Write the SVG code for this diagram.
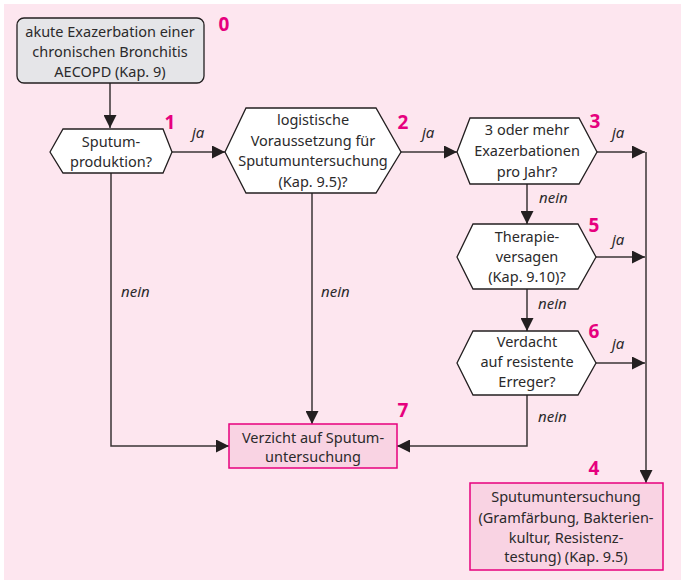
<svg xmlns="http://www.w3.org/2000/svg" width="681" height="580" viewBox="0 0 681 580">
<defs>
<marker id="arr" markerUnits="userSpaceOnUse" markerWidth="13" markerHeight="13" refX="13" refY="6.5" orient="auto">
<path d="M0,0 L13,6.5 L0,13 z" fill="#231f20"/>
</marker>
<style>
.t{font-family:"Noto Sans","Open Sans",sans-serif;font-size:14.5px;fill:#2b2a2b;text-anchor:middle}
.l{font-family:"Noto Sans","Open Sans",sans-serif;font-size:15px;font-style:italic;fill:#2b2a2b}
.n{font-family:"Noto Sans","Open Sans",sans-serif;font-size:19px;font-weight:bold;fill:#e6007e;text-anchor:middle}
.hex{fill:#fff;stroke:#231f20;stroke-width:1.3}
.pink{fill:#f9d3e3;stroke:#e6007e;stroke-width:1.5}
.c{fill:none;stroke:#3a3536;stroke-width:1.5}
</style>
</defs>
<rect x="4" y="4" width="677" height="576" fill="#fde6ef"/>
<g id="connectors">
<path class="c" d="M110,83 V128" marker-end="url(#arr)"/>
<path class="c" d="M172,152 H225" marker-end="url(#arr)"/>
<path class="c" d="M401,152 H457" marker-end="url(#arr)"/>
<path class="c" d="M597,152 H645" marker-end="url(#arr)"/>
<path class="c" d="M596,257 H645" marker-end="url(#arr)"/>
<path class="c" d="M596,363 H645" marker-end="url(#arr)"/>
<path class="c" d="M646,152 V483" marker-end="url(#arr)"/>
<path class="c" d="M527,184 V224" marker-end="url(#arr)"/>
<path class="c" d="M527,289 V331" marker-end="url(#arr)"/>
<path class="c" d="M527,395 V446 H397" marker-end="url(#arr)"/>
<path class="c" d="M111,173 V446 H229" marker-end="url(#arr)"/>
<path class="c" d="M312,193 V424" marker-end="url(#arr)"/>
<text class="l" x="192" y="138">ja</text>
<text class="l" x="422" y="138">ja</text>
<text class="l" x="612" y="138">ja</text>
<text class="l" x="612" y="245">ja</text>
<text class="l" x="612" y="349">ja</text>
<text class="l" x="539" y="203">nein</text>
<text class="l" x="538" y="309">nein</text>
<text class="l" x="538" y="422">nein</text>
<text class="l" x="121" y="297">nein</text>
<text class="l" x="321" y="297">nein</text>
</g>
<g id="node0">
<rect x="17" y="18" width="187" height="65" rx="7" fill="#e5e5e8" stroke="#231f20" stroke-width="1.3"/>
<text class="t" x="110" y="37">akute Exazerbation einer</text>
<text class="t" x="110" y="57">chronischen Bronchitis</text>
<text class="t" x="110" y="77">AECOPD (Kap. 9)</text>
<text class="n" x="224" y="31">0</text>
</g>
<g id="node1">
<polygon class="hex" points="50,152 63,129 163,129 172,152 163,173 63,173"/>
<text class="t" x="111" y="147">Sputum-</text>
<text class="t" x="111" y="167">produktion?</text>
<text class="n" x="170" y="129">1</text>
</g>
<g id="node2">
<polygon class="hex" points="225,152 246,108 376,108 401,152 376,193 246,193"/>
<text class="t" x="313" y="125">logistische</text>
<text class="t" x="313" y="146">Voraussetzung für</text>
<text class="t" x="313" y="166">Sputumuntersuchung</text>
<text class="t" x="313" y="187">(Kap. 9.5)?</text>
<text class="n" x="403" y="129">2</text>
</g>
<g id="node3">
<polygon class="hex" points="457,152 470,118 579,118 597,152 579,184 470,184"/>
<text class="t" x="527" y="135">3 oder mehr</text>
<text class="t" x="527" y="156">Exazerbationen</text>
<text class="t" x="527" y="177">pro Jahr?</text>
<text class="n" x="595" y="128">3</text>
</g>
<g id="node5">
<polygon class="hex" points="457,257 473,224 578,224 596,257 578,289 473,289"/>
<text class="t" x="527" y="242">Therapie-</text>
<text class="t" x="527" y="262">versagen</text>
<text class="t" x="527" y="282">(Kap. 9.10)?</text>
<text class="n" x="594" y="232">5</text>
</g>
<g id="node6">
<polygon class="hex" points="457,363 473,331 578,331 596,363 578,395 473,395"/>
<text class="t" x="527" y="347">Verdacht</text>
<text class="t" x="527" y="367">auf resistente</text>
<text class="t" x="527" y="387">Erreger?</text>
<text class="n" x="594" y="338">6</text>
</g>
<g id="node7">
<rect class="pink" x="229" y="424" width="168" height="44"/>
<text class="t" x="313" y="443">Verzicht auf Sputum-</text>
<text class="t" x="313" y="462">untersuchung</text>
<text class="n" x="403" y="417">7</text>
</g>
<g id="node4">
<rect class="pink" x="470" y="483" width="193" height="87"/>
<text class="t" x="566" y="502">Sputumuntersuchung</text>
<text class="t" x="566" y="523">(Gramfärbung, Bakterien-</text>
<text class="t" x="566" y="543">kultur, Resistenz-</text>
<text class="t" x="566" y="562">testung) (Kap. 9.5)</text>
<text class="n" x="594" y="475">4</text>
</g>
</svg>
